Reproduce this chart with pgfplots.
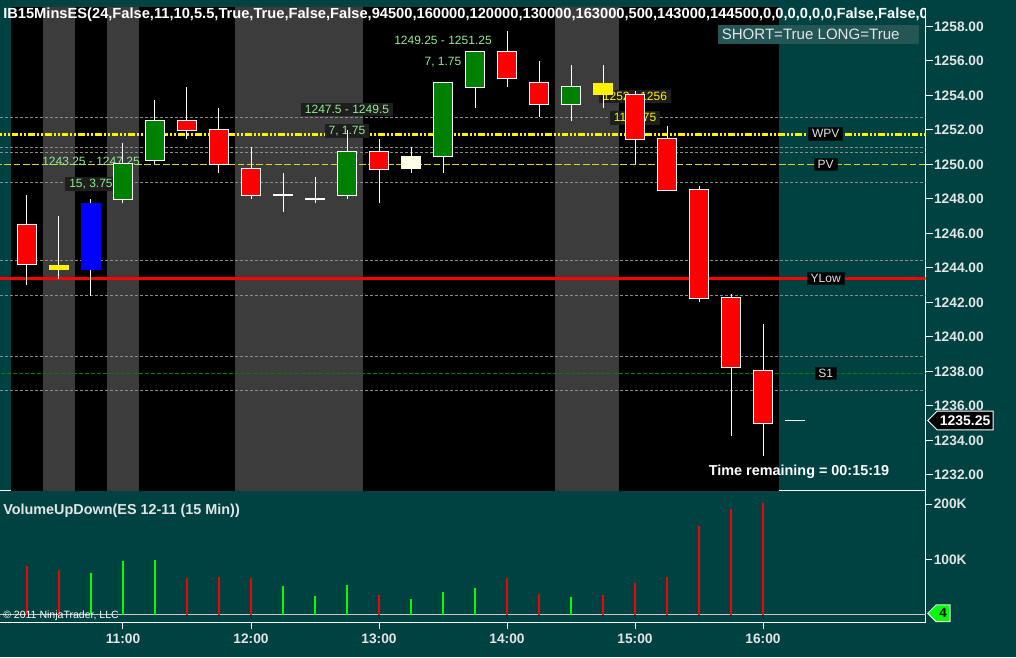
\documentclass[border=0pt]{standalone}
\usepackage{fontspec}
\setmainfont{Liberation Sans}
\usepackage{pgfplots}
\pgfplotsset{compat=1.18}
\usepackage{pgfplotstable}
\usetikzlibrary{shapes.symbols}

\definecolor{bg}{RGB}{0,66,66}
\definecolor{band}{RGB}{60,60,60}
\definecolor{lbl}{RGB}{228,228,228}
\definecolor{lgreen}{RGB}{144,238,144}
\definecolor{boxbg}{RGB}{30,30,30}
\definecolor{cgreen}{RGB}{0,128,0}
\definecolor{cream}{RGB}{255,253,228}
\definecolor{dgray}{RGB}{140,140,140}
\definecolor{shortbg}{RGB}{36,86,86}
\definecolor{vgreen}{RGB}{0,255,0}

% OHLC, times in hours
\pgfplotstableread{
t o h l c
10.25 1246.5 1248.25 1243 1244.25
11.5 1252.5 1254.5 1251.5 1252
11.75 1252 1253.25 1249.5 1250
12.0 1249.75 1251 1248 1248.25
13.0 1250.75 1251.5 1247.75 1249.75
14.0 1256.5 1257.75 1254.5 1255
14.25 1254.75 1256 1252.75 1253.5
15.0 1254 1254.25 1250 1251.5
15.25 1251.5 1252.25 1248.5 1248.5
15.5 1248.5 1248.75 1242 1242.25
15.75 1242.25 1242.5 1234.25 1238.25
16.0 1238 1240.75 1233.1 1235.0
}\redbars
\pgfplotstableread{
t o h l c
11.0 1248 1251.25 1247.75 1250
11.25 1250.25 1253.75 1250 1252.5
12.75 1248.25 1252 1248 1250.75
13.5 1250.5 1254.75 1249.5 1254.75
13.75 1254.5 1256.5 1253.25 1256.5
14.5 1253.5 1255.75 1252.5 1254.5
}\greenbars
\pgfplotstableread{
t o h l c
12.25 1248.25 1249.5 1247.25 1248.25
12.5 1248 1249.25 1247.75 1248
}\dojibars
\pgfplotstableread{
t o h l c
10.5 1244.15 1247 1243.35 1243.9
14.75 1254 1255.75 1253.25 1254.75
}\yellowbars
\pgfplotstableread{
t o h l c
10.75 1243.9 1248 1242.4 1247.75
}\bluebars
\pgfplotstableread{
t o h l c
13.25 1249.75 1251 1249.5 1250.5
}\creambars

\pgfplotstableread{
t v
10.25 87900
10.5 80700
11.5 66200
11.75 68000
12.0 66200
13.0 35400
14.0 66200
14.25 37300
14.75 35400
15.0 57100
15.25 68000
15.5 160200
15.75 191000
16.0 201800
}\redvol
\pgfplotstableread{
t v
10.75 75200
11.0 96900
11.25 98700
12.25 51700
12.5 33600
12.75 53500
13.25 28200
13.5 41400
13.75 48100
14.5 31800
}\greenvol

\newcommand{\wicks}[1]{%
  \addplot[draw=none, mark=none, forget plot,
    error bars/.cd, y dir=plus, y explicit, error mark=none,
    error bar style={draw=white, line width=0.75pt}]
    table[x=t, y=l, y error plus expr=\thisrow{h}-\thisrow{l}] {#1};}
\newcommand{\outline}[1]{%
  \addplot[draw=none, mark=none, forget plot,
    error bars/.cd, y dir=plus, y explicit, error mark=none,
    error bar style={draw=white, line width=15pt}]
    table[x=t, y expr={min(\thisrow{o},\thisrow{c})-0.058},
      y error plus expr={abs(\thisrow{c}-\thisrow{o})+0.116}] {#1};}
\newcommand{\body}[3]{%
  \addplot[draw=none, mark=none, forget plot,
    error bars/.cd, y dir=plus, y explicit, error mark=none,
    error bar style={draw=#2, line width=#3}]
    table[x=t, y expr={min(\thisrow{o},\thisrow{c})},
      y error plus expr={abs(\thisrow{c}-\thisrow{o})}] {#1};}

\tikzset{
  lab/.style={font=\fontsize{9}{10}\selectfont, inner sep=1.5pt},
  bx/.style={fill=boxbg, inner xsep=3pt},
  tagl/.style={font=\fontsize{9}{10}\selectfont, text=lbl, fill=black,
    draw=black!70!bg, inner xsep=2.5pt, inner ysep=1.5pt},
}

\begin{document}
\begin{tikzpicture}
\useasboundingbox (0,0) rectangle (762pt,492.75pt);
\fill[bg] (0,0) rectangle (762pt,492.75pt);

% price panel
\begin{axis}[
  at={(0pt,125.25pt)}, anchor=south west,
  width=694.125pt, height=361.5pt, scale only axis,
  xmin=10.0391, xmax=17.2695, ymin=1231.13, ymax=1259.072,
  axis x line=bottom, axis y line=right,
  axis line style={-, white, line width=0.75pt},
  xtick=\empty,
  ytick={1232,1234,...,1258},
  tick align=outside, major tick length=5.25pt,
  tick style={white, line width=0.75pt},
  yticklabel style={font=\fontsize{10.3}{12}\selectfont\bfseries, text=lbl, inner sep=1pt},
  /pgf/number format/.cd, fixed, fixed zerofill, precision=2, 1000 sep={}, assume math mode=true,
]
% session and gray bands
\addplot[fill=black, draw=none, forget plot] coordinates {(10.125,1230)(10.125,1260)(16.125,1260)(16.125,1230)};
\addplot[fill=band, draw=none, forget plot] coordinates {(10.375,1230)(10.375,1260)(10.625,1260)(10.625,1230)};
\addplot[fill=band, draw=none, forget plot] coordinates {(10.875,1230)(10.875,1260)(11.125,1260)(11.125,1230)};
\addplot[fill=band, draw=none, forget plot] coordinates {(11.875,1230)(11.875,1260)(12.875,1260)(12.875,1230)};
\addplot[fill=band, draw=none, forget plot] coordinates {(14.375,1230)(14.375,1260)(14.875,1260)(14.875,1230)};

% pivot lines
\foreach \lv in {1252.74,1251.01,1250.72,1248.97,1244.45,1242.42,1238.88,1236.91}{
  \addplot[dgray, line width=0.75pt, dash pattern=on 2.25pt off 1.5pt, forget plot]
    coordinates {(10,\lv)(17.3,\lv)};
}
\addplot[yellow!85!black, line width=0.75pt, dash pattern=on 5pt off 2pt, forget plot]
  coordinates {(10,1250)(17.3,1250)};
\addplot[yellow, line width=2pt, dash pattern=on 5pt off 1.5pt on 1.5pt off 1.5pt on 1.5pt off 1.5pt, forget plot]
  coordinates {(10,1251.75)(17.3,1251.75)};
\addplot[red, line width=2pt, forget plot] coordinates {(10,1243.4)(17.3,1243.4)};
\addplot[cgreen, line width=0.75pt, dash pattern=on 3pt off 1.5pt, forget plot]
  coordinates {(10,1237.9)(17.3,1237.9)};

% signal labels
\node[lab, text=lgreen] at (axis cs:10.75,1250.16) {1243.25 - 1247.25};
\node[lab, bx, text=lgreen] at (axis cs:10.75,1248.88) {15, 3.75};
\node[lab, bx, text=lgreen] at (axis cs:12.75,1253.19) {1247.5 - 1249.5};
\node[lab, bx, text=lgreen] at (axis cs:12.75,1251.93) {7, 1.75};
\node[lab, text=lgreen] at (axis cs:13.5,1257.18) {1249.25 - 1251.25};
\node[lab, text=lgreen] at (axis cs:13.5,1255.93) {7, 1.75};
\node[lab, bx, text=yellow] at (axis cs:15.0,1253.93) {1252 - 1256};
\node[lab, bx, text=yellow] at (axis cs:15.0,1252.68) {11, 1.75};

% candles
\wicks{\redbars}
\wicks{\greenbars}
\wicks{\dojibars}
\wicks{\yellowbars}
\wicks{\bluebars}
\wicks{\creambars}
\outline{\redbars}
\outline{\greenbars}
\outline{\dojibars}
\body{\redbars}{red}{13.5pt}
\body{\greenbars}{cgreen}{13.5pt}
\body{\yellowbars}{yellow}{15pt}
\body{\bluebars}{blue}{15pt}
\body{\creambars}{cream}{15pt}
\addplot[white, line width=0.75pt, forget plot] coordinates {(16.172,1235.15)(16.328,1235.15)};

% level tags
\node[tagl] at (axis cs:16.49,1251.78) {WPV};
\node[tagl] at (axis cs:16.49,1250) {PV};
\node[tagl] at (axis cs:16.49,1243.4) {YLow};
\node[tagl] at (axis cs:16.49,1237.9) {S1};
\end{axis}

% volume panel
\begin{axis}[
  at={(0pt,26.025pt)}, anchor=south west,
  width=694.125pt, height=98.475pt, scale only axis,
  xmin=10.0391, xmax=17.2695, ymin=-13924, ymax=223508,
  axis x line=bottom, axis y line=right,
  axis line style={-, white, line width=0.75pt},
  xtick={11,12,13,14,15,16},
  xticklabels={11:00,12:00,13:00,14:00,15:00,16:00},
  ytick={100000,200000}, yticklabels={100K,200K}, scaled y ticks=false,
  tick align=outside, major tick length=5pt,
  tick style={white, line width=0.75pt},
  ticklabel style={font=\fontsize{10.3}{12}\selectfont\bfseries, text=lbl},
  yticklabel style={inner sep=1pt},
]
\addplot[lbl!85!bg, line width=0.75pt, forget plot] coordinates {(10,0)(17.3,0)};
\addplot[ycomb, red, line width=1.5pt, mark=none] table[x=t, y=v] {\redvol};
\addplot[ycomb, vgreen, line width=1.5pt, mark=none] table[x=t, y=v] {\greenvol};
\end{axis}

\begin{scope}[x=0.75pt, y=0.75pt]
  \begin{scope}
    \clip (0,0) rectangle (925,657);
    \node[anchor=west, inner sep=0pt, text=white, font=\fontsize{11}{13}\selectfont\bfseries]
      at (3,642.7) {IB15MinsES(24,False,11,10,5.5,True,True,False,False,94500,160000,120000,130000,163000,500,143000,144500,0,0,0,0,0,0,False,False,0};
  \end{scope}
  \fill[shortbg] (718,613.3) rectangle (919,632);
  \node[anchor=west, inner sep=0pt, text=lbl, font=\fontsize{11.3}{13}\selectfont] at (721.5,622.7) {SHORT=True LONG=True};
  \node[text=white, inner sep=0pt, font=\fontsize{10.8}{12}\selectfont\bfseries] at (799,185.3) {Time remaining = 00:15:19};
  \node[signal, signal to=west, anchor=west, fill=black, draw=white, line width=0.75pt,
    text=white, font=\fontsize{10.5}{12}\selectfont\bfseries, inner xsep=2pt, inner ysep=3.3pt]
    at (927,236.5) {1235.25};
  \node[anchor=west, inner sep=0pt, text=lbl, font=\fontsize{10.8}{12}\selectfont\bfseries] at (3,146) {VolumeUpDown(ES 12-11 (15 Min))};
  \node[anchor=west, inner sep=0pt, text=white, font=\fontsize{7.9}{9}\selectfont] at (3,41) {© 2011 NinjaTrader, LLC};
  \node[signal, signal to=west, anchor=west, fill=vgreen, draw=lbl, line width=0.75pt,
    text=black, font=\fontsize{10}{12}\selectfont\bfseries, inner xsep=2.5pt, inner ysep=2.8pt]
    at (927,43.7) {4};
\end{scope}
\end{tikzpicture}
\end{document}
